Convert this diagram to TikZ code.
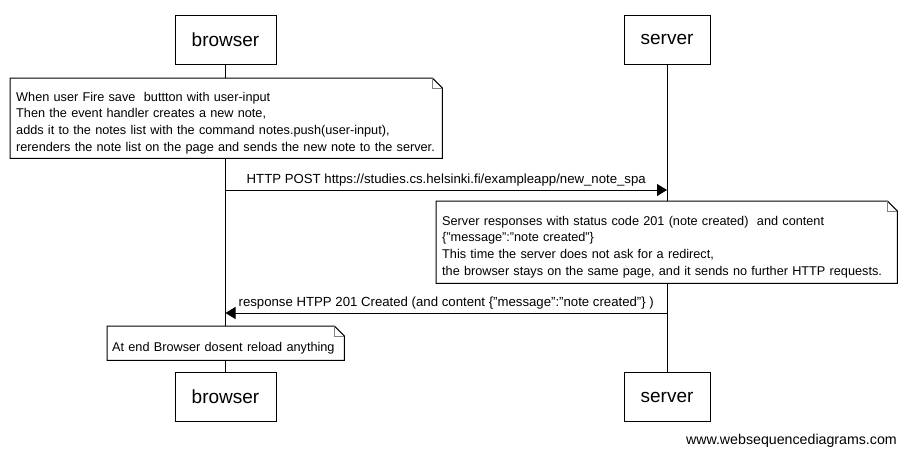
\documentclass[tikz,border=0pt]{standalone}
\usepackage{fontspec}
\setmainfont{Liberation Sans}
\usetikzlibrary{arrows.meta}

\tikzset{
  actor/.style={draw,line width=1pt,fill=white,inner sep=0pt,minimum height=49pt,
    font=\fontsize{19}{22}\selectfont},
  note/.style={fill=white,anchor=north west,align=left,inner xsep=6pt,inner ysep=0pt,
    font=\fontsize{12.7}{16.7}\selectfont,execute at begin node={\rule{0pt}{18.5pt}}},
  msg/.style={line width=1pt,-{Triangle[length=10pt,width=12pt]}},
  msglabel/.style={above,inner sep=3pt,font=\fontsize{13.2}{15}\selectfont},
  lifeline/.style={line width=1pt},
}
% outline of a note, with the folded corner
\newcommand{\foldnote}[1]{%
  \draw[line width=1pt] (#1.north west) -- ([xshift=-10pt]#1.north east)
    -- ([yshift=-10pt]#1.north east) -- (#1.south east) -- (#1.south west) -- cycle;
  \draw[gray,line width=1pt] ([xshift=-10pt]#1.north east) |- ([yshift=-10pt]#1.north east);}

\begin{document}
\begin{tikzpicture}[x=1pt,y=-1pt]
  \useasboundingbox (0,0) rectangle (906,456);
  % actors
  \node[actor,minimum width=101pt] (btop) at (225.5,39.5) {browser};
  \node[actor,minimum width=86pt] (stop) at (667,39.5) {server};
  \node[actor,minimum width=101pt] (bbot) at (225.5,397) {browser};
  \node[actor,minimum width=86pt] (sbot) at (667,397) {server};
  \draw[lifeline] (btop) -- (bbot);
  \draw[lifeline] (stop) -- (sbot);
  % notes
  \node[note,text width=420pt,minimum height=80pt] (n1) at (10,78)
    {When user Fire save\ \ buttton with user-input\\
     Then the event handler creates a new note,\\
     adds it to the notes list with the command notes.push(user-input),\\
     rerenders the note list on the page and sends the new note to the server.};
  \foldnote{n1}
  \node[note,text width=449pt,minimum height=82pt] (n2) at (436,201)
    {Server responses with status code 201 (note created)\ \ and content\\
     \{"message":"note created"\}\\
     This time the server does not ask for a redirect,\\
     the browser stays on the same page, and it sends no further HTTP requests.};
  \foldnote{n2}
  \node[note,inner xsep=5pt,text width=227pt,minimum height=34pt] (n3) at (107,326)
    {At end Browser dosent reload anything};
  \foldnote{n3}
  % messages
  \coordinate (postB) at (btop |- 0,190);
  \coordinate (postS) at (stop |- 0,190);
  \draw[msg] (postB) -- node[msglabel]
    {HTTP POST https://studies.cs.helsinki.fi/exampleapp/new\_note\_spa} (postS);
  \coordinate (respS) at (stop |- 0,313);
  \coordinate (respB) at (btop |- 0,313);
  \draw[msg] (respS) -- node[msglabel]
    {response HTPP 201 Created (and content \{"message":"note created"\} )} (respB);
  % footer
  \node[anchor=east,inner sep=0pt,font=\fontsize{14.2}{16}\selectfont] (credit) at (897,441)
    {www.websequencediagrams.com};
\end{tikzpicture}
\end{document}
